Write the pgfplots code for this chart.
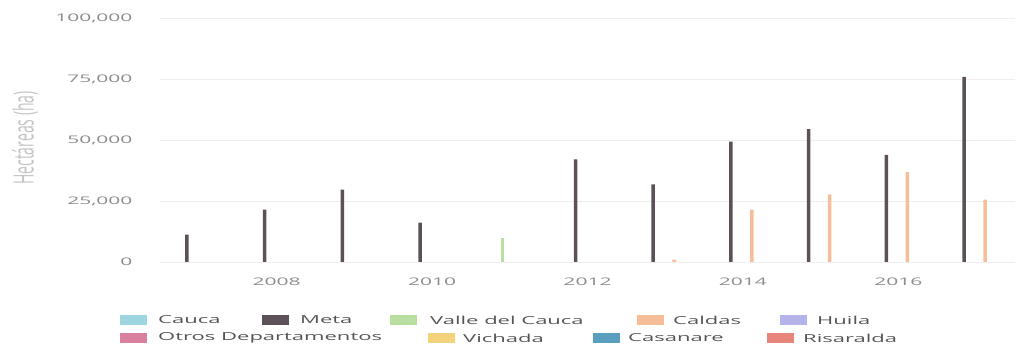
\documentclass[border=0pt]{standalone}
\usepackage{fontspec}
\setmainfont{Open Sans}[FakeStretch=2]
\newfontfamily\plainfont{Open Sans}
\usepackage{graphicx}
\usepackage{pgfplots}
\pgfplotsset{compat=1.18}
\usepackage{pgfplotstable}
\definecolor{cCauca}{HTML}{9DD5E0}
\definecolor{cMeta}{HTML}{5E5058}
\definecolor{cValle}{HTML}{B8DFA0}
\definecolor{cCaldas}{HTML}{F5BE98}
\definecolor{cHuila}{HTML}{B4B4EA}
\definecolor{cOtros}{HTML}{D9809F}
\definecolor{cVichada}{HTML}{F2D27A}
\definecolor{cCasanare}{HTML}{5B9FBF}
\definecolor{cRisaralda}{HTML}{E8857A}
\definecolor{gridc}{HTML}{EEEEEE}
\definecolor{tickc}{HTML}{8C8C8C}
\definecolor{legc}{HTML}{555555}
\definecolor{titc}{HTML}{C4C4C4}

\pgfplotstableread{
year Cauca Meta Valle Caldas Huila Otros Vichada Casanare Risaralda
2007 0 11200 0 0 0 0 0 0 0
2008 0 21500 0 0 0 0 0 0 0
2009 0 29700 0 0 0 0 0 0 0
2010 0 16100 0 0 0 0 0 0 0
2011 0 0 10000 0 0 0 0 0 0
2012 0 42100 0 0 0 0 0 0 0
2013 0 31800 0 1000 0 0 0 0 0
2014 0 49300 0 21500 0 0 0 0 0
2015 0 54500 0 27700 0 0 0 0 0
2016 0 43900 0 36800 0 0 0 0 0
2017 0 75900 0 25600 0 0 0 0 0
}\datatable

\begin{document}
\begin{tikzpicture}
\path[use as bounding box] (0,0) rectangle (1017pt,350pt);
\begin{axis}[
  at={(160pt,88pt)}, anchor=south west,
  scale only axis, width=855pt, height=251.3pt,
  xmin=2006.5, xmax=2017.5, ymin=0, ymax=103000,
  axis line style={draw=none},
  tick style={draw=none},
  major tick length=0pt,
  ymajorgrids, grid style={gridc, line width=0.8pt},
  xtick={2008,2010,2012,2014,2016},
  xticklabels={2008,2010,2012,2014,2016},
  ytick={0,25000,50000,75000,100000},
  yticklabels={0,{25,000},{50,000},{75,000},{100,000}},
  scaled y ticks=false,
  ticklabel style={font=\fontsize{10.5}{12}\selectfont, text=tickc},
  yticklabel style={xshift=-24pt},
  xticklabel style={yshift=-12pt},
  unbounded coords=discard,
  every axis plot/.append style={y filter/.expression={y==0 ? nan : y}},
  clip=false,
]
\addplot[ybar, bar width=3.5pt, bar shift=-22.5pt, fill=cCauca, draw=none] table[x=year,y=Cauca]{\datatable};
\addplot[ybar, bar width=3.5pt, bar shift=-12pt, fill=cMeta, draw=none] table[x=year,y=Meta]{\datatable};
\addplot[ybar, bar width=3.5pt, bar shift=-7.5pt, fill=cValle, draw=none] table[x=year,y=Valle]{\datatable};
\addplot[ybar, bar width=3.5pt, bar shift=9pt, fill=cCaldas, draw=none] table[x=year,y=Caldas]{\datatable};
\addplot[ybar, bar width=3.5pt, bar shift=19.5pt, fill=cHuila, draw=none] table[x=year,y=Huila]{\datatable};
\addplot[ybar, bar width=3.5pt, bar shift=24pt, fill=cOtros, draw=none] table[x=year,y=Otros]{\datatable};
\addplot[ybar, bar width=3.5pt, bar shift=28pt, fill=cVichada, draw=none] table[x=year,y=Vichada]{\datatable};
\addplot[ybar, bar width=3.5pt, bar shift=32pt, fill=cCasanare, draw=none] table[x=year,y=Casanare]{\datatable};
\addplot[ybar, bar width=3.5pt, bar shift=36pt, fill=cRisaralda, draw=none] table[x=year,y=Risaralda]{\datatable};
\end{axis}
% y axis title
\node[rotate=90, text=titc] at (25pt,212pt) {\plainfont\fontsize{14}{16}\selectfont\scalebox{1}[2]{Hectáreas (ha)}};
% legend
\begin{scope}[every node/.style={anchor=west, inner sep=0pt, text=legc, font=\fontsize{11}{13}\selectfont}]
\fill[cCauca] (120pt,25pt) rectangle (147pt,35pt); \node at (158pt,30pt) {Cauca};
\fill[cMeta] (262pt,25pt) rectangle (289pt,35pt); \node at (300pt,30pt) {Meta};
\fill[cValle] (390pt,25pt) rectangle (417pt,35pt); \node at (430pt,30pt) {Valle del Cauca};
\fill[cCaldas] (637pt,25pt) rectangle (664pt,35pt); \node at (673pt,30pt) {Caldas};
\fill[cHuila] (780pt,25pt) rectangle (807pt,35pt); \node at (817pt,30pt) {Huila};
\fill[cOtros] (120pt,7pt) rectangle (147pt,17pt); \node at (158pt,12pt) {Otros Departamentos};
\fill[cVichada] (428pt,7pt) rectangle (455pt,17pt); \node at (463pt,12pt) {Vichada};
\fill[cCasanare] (593pt,7pt) rectangle (620pt,17pt); \node at (628pt,12pt) {Casanare};
\fill[cRisaralda] (767pt,7pt) rectangle (794pt,17pt); \node at (803pt,12pt) {Risaralda};
\end{scope}
\end{tikzpicture}
\end{document}
